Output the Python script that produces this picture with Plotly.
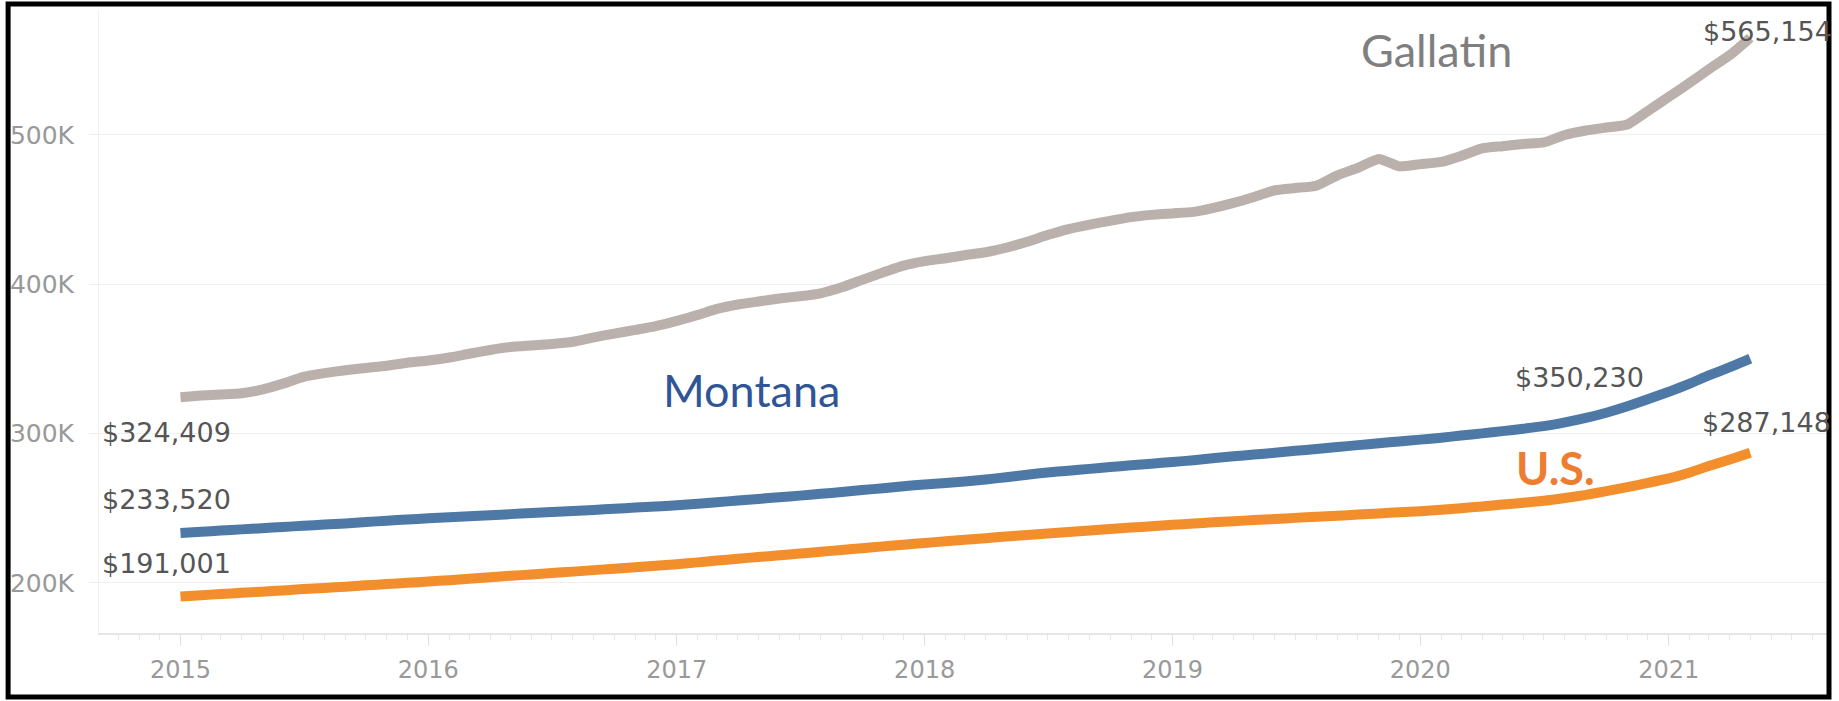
import pandas as pd
import plotly.graph_objects as go

# monthly median values, thousands of dollars
months = pd.date_range('2015-01-01', periods=77, freq='MS')

gallatin = [324.409, 325.5, 326.2, 327.0, 329.5, 333.5, 338.0, 340.5, 342.5, 344.0, 345.5, 347.5,
            349.0, 351.0, 353.5, 356.0, 358.0, 359.0, 360.0, 361.5, 364.5, 367.0, 369.5, 372.0,
            375.5, 379.5, 383.5, 386.5, 388.5, 390.5, 392.0, 394.0, 398.0, 403.0, 408.0, 412.5,
            415.5, 417.5, 419.5, 421.5, 424.5, 428.5, 433.0, 437.0, 440.0, 442.5, 445.0, 446.5,
            447.5, 448.5, 451.0, 454.5, 458.5, 463.0, 464.5, 466.0, 473.0, 478.0, 484.0, 479.0,
            480.5, 482.0, 486.0, 491.0, 492.5, 494.0, 495.0, 500.0, 503.0, 505.0, 507.0, 516.0,
            525.5, 535.0, 544.0, 553.5, 565.154]

montana = [233.520, 234.3, 235.1, 235.9, 236.7, 237.5, 238.3, 239.1, 239.9, 240.8, 241.7, 242.5,
           243.3, 244.0, 244.7, 245.4, 246.1, 246.8, 247.5, 248.2, 248.9, 249.7, 250.5, 251.2,
           252.0, 253.0, 254.1, 255.2, 256.3, 257.4, 258.5, 259.7, 260.9, 262.2, 263.5, 264.8,
           266.0, 267.0, 268.0, 269.3, 270.8, 272.5, 274.0, 275.2, 276.4, 277.6, 278.8, 279.9,
           281.0, 282.2, 283.5, 284.8, 286.0, 287.2, 288.5, 289.7, 291.0, 292.3, 293.6, 294.8,
           296.0, 297.3, 298.7, 300.2, 301.7, 303.3, 305.0, 307.5, 310.5, 314.0, 318.3, 323.0,
           328.0, 333.5, 339.0, 344.5, 350.230]

us = [191.001, 191.8, 192.6, 193.4, 194.2, 195.0, 195.9, 196.7, 197.5, 198.4, 199.3, 200.1,
      201.0, 201.9, 202.9, 203.8, 204.8, 205.7, 206.7, 207.6, 208.6, 209.6, 210.6, 211.6,
      212.6, 213.8, 215.0, 216.2, 217.4, 218.5, 219.7, 220.9, 222.1, 223.3, 224.5, 225.6,
      226.8, 227.9, 229.0, 230.0, 231.1, 232.1, 233.1, 234.1, 235.1, 236.1, 237.1, 238.0,
      239.0, 239.8, 240.6, 241.4, 242.1, 242.8, 243.6, 244.3, 245.0, 245.8, 246.6, 247.3,
      248.0, 249.0, 250.1, 251.2, 252.5, 253.7, 255.0, 256.9, 259.0, 261.5, 264.2, 267.0,
      270.0, 274.0, 278.3, 282.7, 287.148]

y_ticks = [200, 300, 400, 500]
y_tick_labels = ['200K', '300K', '400K', '500K']

W, H = 1839, 701
L, R, T, B = 97, 12, 10, 68
pw, ph = W - L - R, H - T - B

def px_x(p):
    return (p - L) / pw

def px_y(p):
    return (H - B - p) / ph

fig = go.Figure()
series = [('Gallatin', gallatin, '#bab0ac'),
          ('Montana', montana, '#4e79a7'),
          ('U.S.', us, '#f28e2b')]
for name, vals, col in series:
    fig.add_trace(go.Scatter(x=months, y=vals, mode='lines', name=name,
                             line=dict(color=col, width=10, shape='spline', smoothing=0.5),
                             hoverinfo='skip'))

lab_font = dict(family='DejaVu Sans', size=27, color='#555555')
def money(v):
    return '${:,.0f}'.format(v * 1000)

# value labels: (series, index, xshift, yshift)
labels = [(gallatin, 0, -80, -35), (montana, 0, -80, 33), (us, 0, -80, 33),
          (gallatin, -1, -49, 6), (montana, -1, -237, -19), (us, -1, -50, 30)]
for vals, i, xs, ys in labels:
    fig.add_annotation(x=months[i], y=vals[i], text=money(vals[i]), showarrow=False,
                       xanchor='left', yanchor='middle', xshift=xs, yshift=ys, font=lab_font)

# series names
names = [('Gallatin', 1436, 50, '#7f7f7f'),
         ('Montana', 750, 390, '#2f5597'),
         ('<b>U.S.</b>', 1555, 468, '#ed7d31')]
for txt, x, y, col in names:
    fig.add_annotation(x=px_x(x), y=px_y(y), xref='paper', yref='paper', text=txt,
                       showarrow=False, xanchor='center', yanchor='middle',
                       font=dict(family='Lato', size=45, color=col))

# black frame around the picture
fig.add_shape(type='rect', xref='paper', yref='paper',
              x0=px_x(6), x1=px_x(1829), y0=px_y(697), y1=px_y(4),
              line=dict(color='black', width=5), layer='above')

fig.update_layout(
    width=W, height=H,
    margin=dict(l=L, r=R, t=T, b=B, pad=0),
    plot_bgcolor='white', paper_bgcolor='white',
    showlegend=False,
    xaxis=dict(type='date', range=['2014-09-03', '2021-08-22'],
               tick0='2015-01-01', dtick='M12', tickformat='%Y',
               showgrid=False, zeroline=False,
               showline=True, linecolor='#e6e6e6', linewidth=2,
               ticks='outside', ticklen=11, tickcolor='#e0e0e0',
               minor=dict(dtick='M1', ticks='outside', ticklen=5, tickcolor='#e6e6e6', showgrid=False),
               ticklabelstandoff=3,
               tickfont=dict(family='DejaVu Sans', size=24, color='#999999')),
    yaxis=dict(range=[166.5, 583.7], tickvals=y_ticks, ticktext=y_tick_labels,
               showgrid=True, gridcolor='#f0f0f0', gridwidth=1, zeroline=False,
               showline=True, linecolor='#f0f0f0', linewidth=1,
               ticks='outside', ticklen=9, tickcolor='#f0f0f0',
               ticklabelstandoff=10,
               tickfont=dict(family='DejaVu Sans', size=25, color='#999999')),
)

fig.write_html('out.html', config={'displayModeBar': False},
               post_script="document.body.style.margin='0';")
